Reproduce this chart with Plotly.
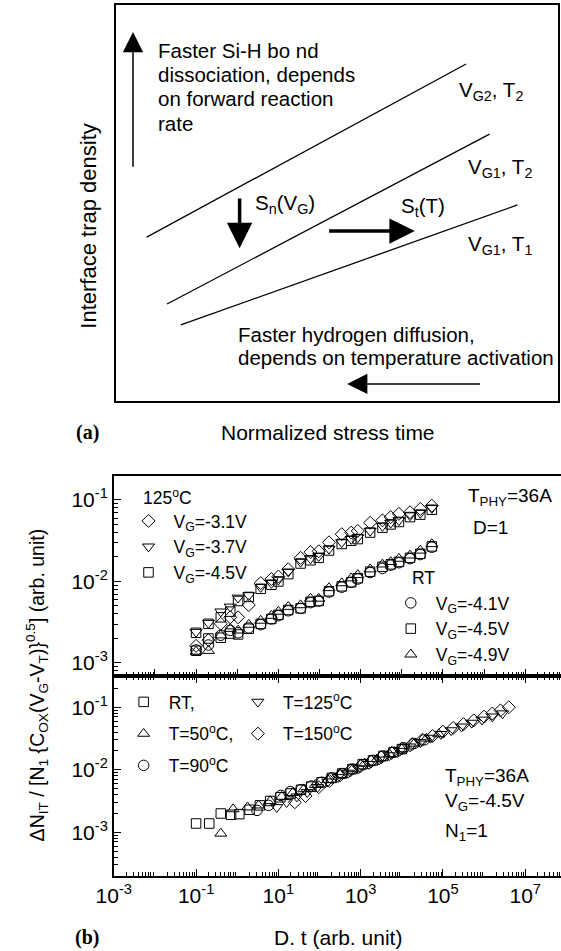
import plotly.graph_objects as go

FONT = "Liberation Sans, Arial, sans-serif"
SERIF = "Liberation Serif, Times New Roman, serif"
W, H = 561, 951

# ---------------- panel (a): schematic (normalised box units 0..1) ----------------
A_LINE_X = [[0.070, 0.792], [0.116, 0.845], [0.147, 0.908]]
A_LINE_Y = [[0.414, 0.851], [0.245, 0.674], [0.192, 0.495]]
A_LINE_LABELS = ["V<sub>G2</sub>, T<sub>2</sub>", "V<sub>G1</sub>, T<sub>2</sub>", "V<sub>G1</sub>, T<sub>1</sub>"]
A_LABEL_X = [0.772, 0.792, 0.792]
A_LABEL_Y = [0.783, 0.588, 0.394]
A_TOP_TEXT = ["Faster Si-H bo nd", "dissociation, depends", "on forward reaction", "rate"]
A_TOP_TEXT_Y = [0.886, 0.825, 0.763, 0.701]
A_BOT_TEXT = ["Faster hydrogen diffusion,", "depends on temperature activation"]
A_BOT_TEXT_Y = [0.169, 0.111]
# arrows: (tail x, tail y, tip x, tip y, shaft width, head size)
A_ARROWS = [(0.039, 0.588, 0.039, 0.932, 1.5, 2.7),
            (0.280, 0.515, 0.280, 0.386, 3.5, 1.45),
            (0.479, 0.429, 0.676, 0.429, 3.5, 1.45),
            (0.827, 0.043, 0.523, 0.043, 1.5, 2.7)]

# ---------------- panel (b): values (log10 exponents) ----------------
UP_LOGX = [-1.0, -0.70, -0.40, -0.17, 0.02, 0.28, 0.57, 0.83, 1.0, 1.24, 1.54, 1.78,
           1.98, 2.23, 2.54, 2.77, 2.93, 3.23, 3.53, 3.73, 3.93, 4.20, 4.45, 4.73]
T125_VG31 = [-2.79, -2.72, -2.52, -2.44, -2.44, -2.29, -2.02, -1.97, -1.94, -1.85, -1.71, -1.64,
             -1.63, -1.52, -1.42, -1.40, -1.38, -1.28, -1.25, -1.21, -1.17, -1.15, -1.11, -1.07]
T125_VG37 = [-2.62, -2.51, -2.37, -2.31, -2.20, -2.17, -2.07, -2.02, -1.98, -1.88, -1.76, -1.72,
             -1.69, -1.60, -1.52, -1.48, -1.46, -1.38, -1.32, -1.28, -1.25, -1.19, -1.16, -1.10]
T125_VG45 = [-2.63, -2.52, -2.44, -2.37, -2.24, -2.19, -2.09, -2.04, -2.00, -1.91, -1.78, -1.74,
             -1.71, -1.62, -1.54, -1.50, -1.48, -1.40, -1.34, -1.30, -1.27, -1.21, -1.18, -1.12]
RT_VG41 = [-2.84, -2.78, -2.66, -2.60, -2.63, -2.57, -2.53, -2.46, -2.42, -2.36, -2.33, -2.26,
           -2.24, -2.13, -2.07, -2.01, -1.97, -1.89, -1.84, -1.80, -1.77, -1.72, -1.67, -1.58]
RT_VG45 = [-2.85, -2.70, -2.69, -2.64, -2.65, -2.58, -2.52, -2.46, -2.41, -2.35, -2.33, -2.25,
           -2.24, -2.12, -2.06, -2.01, -1.96, -1.88, -1.82, -1.79, -1.76, -1.71, -1.66, -1.57]
RT_VG49 = [-2.86, -2.85, -2.66, -2.58, -2.60, -2.53, -2.48, -2.42, -2.37, -2.31, -2.29, -2.21,
           -2.21, -2.08, -2.02, -1.96, -1.92, -1.85, -1.79, -1.76, -1.72, -1.68, -1.62, -1.54]

LO_RT_X = [-1.0, -0.68, -0.40, -0.15, 0.05, 0.30, 0.55, 0.80, 1.05, 1.30, 1.55, 1.80, 2.05,
           2.30, 2.55, 2.80, 3.05, 3.30, 3.55, 3.80, 4.00]
LO_RT_Y = [-2.86, -2.86, -2.70, -2.72, -2.71, -2.64, -2.57, -2.50, -2.44, -2.38, -2.32, -2.27,
           -2.20, -2.13, -2.06, -1.99, -1.91, -1.85, -1.78, -1.72, -1.67]
LO_50_X = [-0.40, -0.10, 0.25, 0.52, 0.80, 1.08, 1.35, 1.62, 1.90, 2.20, 2.50, 2.80, 3.10,
           3.40, 3.70, 4.00, 4.30, 4.60, 4.90]
LO_50_Y = [-3.02, -2.63, -2.60, -2.57, -2.50, -2.43, -2.37, -2.31, -2.24, -2.16, -2.08, -1.99,
           -1.90, -1.83, -1.75, -1.67, -1.58, -1.50, -1.43]
LO_90_X = [0.48, 0.76, 1.06, 1.29, 1.55, 1.80, 2.05, 2.30, 2.55, 2.80, 3.05, 3.30, 3.55, 3.80,
           4.05, 4.30, 4.55]
LO_90_Y = [-2.65, -2.57, -2.41, -2.35, -2.32, -2.26, -2.20, -2.13, -2.06, -1.99, -1.92, -1.85,
           -1.78, -1.72, -1.65, -1.58, -1.52]
LO_125_X = [0.96, 1.20, 1.45, 1.70, 1.95, 2.20, 2.45, 2.70, 2.95, 3.20, 3.45, 3.70, 3.95, 4.20,
            4.45, 4.70, 4.95, 5.20, 5.45, 5.70, 5.95, 6.20, 6.45]
LO_125_Y = [-2.60, -2.52, -2.43, -2.36, -2.28, -2.19, -2.12, -2.05, -1.98, -1.91, -1.84, -1.77,
            -1.70, -1.63, -1.56, -1.49, -1.43, -1.37, -1.31, -1.25, -1.20, -1.15, -1.10]
LO_150_X = [1.40, 1.66, 1.98, 2.24, 2.50, 2.75, 3.00, 3.25, 3.50, 3.75, 4.00, 4.25, 4.50, 4.75,
            5.00, 5.25, 5.50, 5.75, 6.00, 6.20, 6.40, 6.60]
LO_150_Y = [-2.52, -2.42, -2.28, -2.18, -2.09, -2.01, -1.94, -1.87, -1.80, -1.73, -1.66, -1.59,
            -1.52, -1.46, -1.39, -1.33, -1.27, -1.21, -1.15, -1.10, -1.05, -1.00]

X_LABEL_EXP = [-3, -1, 1, 3, 5, 7]
X_PLAIN_EXP = [-2, 0, 2, 4, 6]
Y_TICK_EXP = [-3, -2, -1]


def px2x(p):
    return p / W


def px2y(p):
    return 1 - p / H


def tv(v):
    return [10 ** e for e in v]


fig = go.Figure()

# ---- panel (a) lines
for lx, ly in zip(A_LINE_X, A_LINE_Y):
    fig.add_trace(go.Scatter(x=lx, y=ly, mode="lines", line=dict(color="black", width=1.3),
                             xaxis="x3", yaxis="y3", showlegend=False, hoverinfo="skip"))


def mk(sym, size):
    return dict(symbol=sym, size=size, color="black", line=dict(color="black", width=1))


# ---- panel (b) upper
up_series = [
    ("V<sub>G</sub>=-3.1V", T125_VG31, "diamond-open", 10, "legend"),
    ("V<sub>G</sub>=-3.7V", T125_VG37, "triangle-down-open", 10.5, "legend"),
    ("V<sub>G</sub>=-4.5V", T125_VG45, "square-open", 9.5, "legend"),
    ("V<sub>G</sub>=-4.1V", RT_VG41, "circle-open", 10.5, "legend2"),
    ("V<sub>G</sub>=-4.5V", RT_VG45, "square-open", 9.5, "legend2"),
    ("V<sub>G</sub>=-4.9V", RT_VG49, "triangle-up-open", 10.5, "legend2"),
]
for name, ys, sym, sz, leg in up_series:
    fig.add_trace(go.Scatter(x=tv(UP_LOGX), y=tv(ys), mode="markers", name=name,
                             marker=mk(sym, sz), xaxis="x", yaxis="y", legend=leg))

lo_series = [
    ("RT,", LO_RT_X, LO_RT_Y, "square-open", 9.5, "legend3"),
    ("T=50<sup>o</sup>C,", LO_50_X, LO_50_Y, "triangle-up-open", 10.5, "legend3"),
    ("T=90<sup>o</sup>C", LO_90_X, LO_90_Y, "circle-open", 10.5, "legend3"),
    ("T=125<sup>o</sup>C", LO_125_X, LO_125_Y, "triangle-down-open", 10.5, "legend4"),
    ("T=150<sup>o</sup>C", LO_150_X, LO_150_Y, "diamond-open", 10, "legend4"),
]
for i, (name, xs, ys, sym, sz, leg) in enumerate(lo_series):
    fig.add_trace(go.Scatter(x=tv(xs), y=tv(ys), mode="markers", name=name, legendgroup="g%d" % i,
                             marker=mk(sym, sz), xaxis="x2", yaxis="y2", legend=leg))

# ---- axes
xminor = [m * 10 ** e for e in range(-4, 9) for m in range(2, 10)]
yminor = [m * 10 ** e for e in range(-5, 1) for m in range(2, 10)]
tickfont = dict(family=FONT, size=21, color="black")
x_dom = [99 / W, 1.0]
XR = [-3, 7.87]
minor_x = dict(tickmode="array", tickvals=xminor, ticks="inside", ticklen=4,
               tickcolor="black", tickwidth=1, showgrid=False)
xcommon = dict(type="log", range=XR, domain=x_dom, showgrid=False, zeroline=False,
               showline=True, linecolor="black", linewidth=1.5, ticks="inside", ticklen=7,
               tickwidth=1, tickcolor="black", tickfont=tickfont)
ycommon = dict(type="log", showgrid=False, zeroline=False, showline=True, linecolor="black",
               linewidth=1.5, ticks="inside", ticklen=7, tickwidth=1, tickcolor="black",
               tickvals=tv(Y_TICK_EXP), ticktext=["10<sup>%d</sup>" % e for e in Y_TICK_EXP],
               minor=dict(tickmode="array", tickvals=yminor, ticks="inside", ticklen=4,
                          tickcolor="black", tickwidth=1, showgrid=False),
               tickfont=tickfont)

fig.update_layout(
    xaxis=dict(xcommon, anchor="y", showticklabels=False, mirror=True,
               tickvals=tv(X_LABEL_EXP + X_PLAIN_EXP), minor=minor_x),
    yaxis=dict(ycommon, anchor="x", domain=[px2y(676), px2y(476)], range=[-3.16, -0.706]),
    xaxis2=dict(xcommon, anchor="y2", mirror="ticks", tickvals=tv(X_LABEL_EXP),
                ticktext=["10<sup>%d</sup>" % e for e in X_LABEL_EXP], minor=minor_x),
    xaxis4=dict(type="log", range=XR, domain=x_dom, anchor="y2", overlaying="x2",
                showgrid=False, zeroline=False, showline=False, ticks="inside", ticklen=7,
                tickwidth=1, tickcolor="black", tickvals=tv(X_PLAIN_EXP),
                showticklabels=False, mirror="ticks"),
    yaxis2=dict(ycommon, anchor="x2", domain=[px2y(876), px2y(676)], range=[-3.70, -0.50]),
    xaxis3=dict(domain=[101 / W, 558 / W], anchor="y3", range=[0, 1], showgrid=False,
                zeroline=False, showline=True, mirror=True, linecolor="black", linewidth=1.5,
                showticklabels=False, ticks=""),
    yaxis3=dict(domain=[px2y(401), px2y(5)], anchor="x3", range=[0, 1], showgrid=False,
                zeroline=False, showline=True, mirror=True, linecolor="black", linewidth=1.5,
                showticklabels=False, ticks=""),
)

leg_common = dict(bgcolor="rgba(0,0,0,0)", borderwidth=0, itemwidth=40, xanchor="left",
                  yanchor="top", orientation="v", font=dict(family=FONT, size=17.5, color="black"))
fig.update_layout(
    legend=dict(leg_common, x=px2x(109), y=px2y(503), tracegroupgap=0),
    legend2=dict(leg_common, x=px2x(380), y=px2y(585), tracegroupgap=0),
    legend3=dict(leg_common, x=px2x(104), y=px2y(684), tracegroupgap=6),
    legend4=dict(leg_common, x=px2x(222), y=px2y(684), tracegroupgap=6),
)

ann = []
FA = 20.5  # panel (a) text size


def tf(s):
    return dict(family=FONT, size=s, color="black")


# panel (a) texts
for t, y in zip(A_TOP_TEXT, A_TOP_TEXT_Y):
    ann.append(dict(text=t, x=0.090, y=y, xref="x3", yref="y3", xanchor="left", yanchor="middle",
                    showarrow=False, font=tf(FA)))
for t, y in zip(A_BOT_TEXT, A_BOT_TEXT_Y):
    ann.append(dict(text=t, x=0.271, y=y, xref="x3", yref="y3", xanchor="left", yanchor="middle",
                    showarrow=False, font=tf(FA)))
for t, x, y in zip(A_LINE_LABELS, A_LABEL_X, A_LABEL_Y):
    ann.append(dict(text=t, x=x, y=y, xref="x3", yref="y3", xanchor="left", yanchor="middle",
                    showarrow=False, font=tf(FA)))
ann.append(dict(text="S<sub>n</sub>(V<sub>G</sub>)", x=0.311, y=0.497, xref="x3", yref="y3",
                xanchor="left", yanchor="middle", showarrow=False, font=tf(FA)))
ann.append(dict(text="S<sub>t</sub>(T)", x=0.641, y=0.490, xref="x3", yref="y3",
                xanchor="left", yanchor="middle", showarrow=False, font=tf(FA)))
for (tx, ty, hx, hy, w, s) in A_ARROWS:
    ann.append(dict(text="", x=hx, y=hy, ax=tx, ay=ty, xref="x3", yref="y3", axref="x3",
                    ayref="y3", showarrow=True, arrowhead=2, arrowwidth=w, arrowsize=s,
                    arrowcolor="black", standoff=0, startstandoff=0))


def pc(text, x, y, font, angle=0):
    ann.append(dict(text=text, x=px2x(x), y=px2y(y), xref="paper", yref="paper",
                    xanchor="center", yanchor="middle", textangle=angle, showarrow=False, font=font))


pc("Interface trap density", 73, 226, tf(22), -90)
pc("<b>(a)</b>", 72, 432, dict(family=SERIF, size=20, color="black"))
pc("Normalized stress time", 320, 432, tf(21))


# panel (b) texts
def pa(text, x, y, size):
    ann.append(dict(text=text, x=px2x(x), y=px2y(y), xref="paper", yref="paper",
                    xanchor="left", yanchor="middle", showarrow=False, font=tf(size)))


pa("125<sup>o</sup>C", 127, 497, 17.5)
pa("RT", 405, 578, 17.5)
pa("T<sub>PHY</sub>=36A", 463, 497, 19)
pa("D=1", 468, 527, 19)
pa("T<sub>PHY</sub>=36A", 439, 777, 19)
pa("V<sub>G</sub>=-4.5V", 439, 802, 19)
pa("N<sub>1</sub>=1", 439, 832, 19)
pc("D. t (arb. unit)", 331, 937, tf(21))
pc("<b>(b)</b>", 71, 937, dict(family=SERIF, size=20, color="black"))
pc("ΔN<sub>IT</sub> / [N<sub>1</sub> {C<sub>OX</sub>(V<sub>G</sub>-V<sub>T</sub>)}<sup>0.5</sup>] (arb. unit)",
   19, 685, tf(19.5), -90)

fig.update_layout(annotations=ann, width=W, height=H, margin=dict(l=0, r=0, t=0, b=0),
                  paper_bgcolor="white", plot_bgcolor="white", font=dict(family=FONT, color="black"))

fig.write_html("out.html")
